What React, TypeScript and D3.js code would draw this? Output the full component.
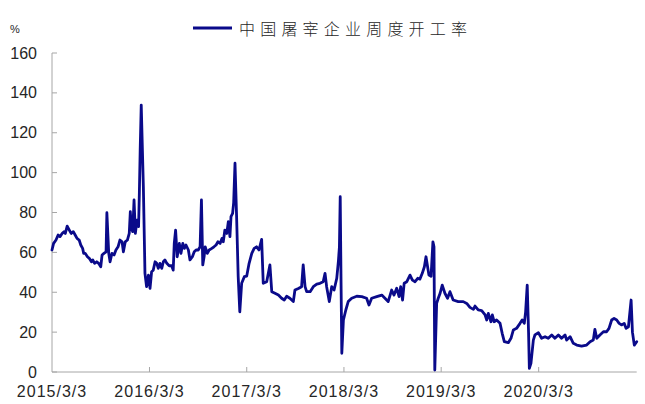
import React from "react";
import * as d3 from "d3";

const startDate = new Date(2015, 2, 3);
const seriesName = "中国屠宰企业周度开工率";
const unitLabel = "%";
const yTicks = [0, 20, 40, 60, 80, 100, 120, 140, 160];
const xTickLabels = ["2015/3/3", "2016/3/3", "2017/3/3", "2018/3/3", "2019/3/3", "2020/3/3"];
const xTickDates = [
  new Date(2015, 2, 3), new Date(2016, 2, 3), new Date(2017, 2, 3),
  new Date(2018, 2, 3), new Date(2019, 2, 3), new Date(2020, 2, 3),
];
const endDay = 2195;

// days since 2015/3/3
const dayOffsets = [
  0, 6, 15, 23, 30, 38, 45, 50, 57, 65,
  72, 80, 87, 94, 102, 108, 115, 119, 125, 133,
  140, 148, 153, 160, 168, 175, 183, 188, 195, 203,
  206, 213, 218, 225, 233, 240, 248, 255, 263, 268,
  275, 283, 290, 294, 298, 303, 308, 313, 319, 325,
  328, 331, 335, 343, 349, 355, 362, 368, 374, 380,
  387, 393, 399, 405, 412, 418, 424, 431, 440, 449,
  455, 459, 464, 470, 478, 484, 491, 497, 503, 512,
  518, 527, 534, 541, 549, 556, 561, 566, 571, 575,
  583, 590, 600, 608, 616, 623, 631, 638, 643, 649,
  656, 662, 668, 672, 678, 682, 687, 693, 699,
  705, 712, 722, 731, 740, 750, 759, 768, 777, 787, 793, 806, 818, 825, 837, 850, 862, 872, 881, 893,
  906, 912, 925, 937, 943, 950, 956, 969, 981, 994, 1006, 1018, 1025, 1031, 1041, 1050, 1059, 1069, 1075, 1079,
  1082, 1085, 1088, 1094, 1103, 1112, 1125, 1144, 1163, 1181, 1190, 1200, 1219, 1238, 1250, 1262, 1275, 1284, 1294, 1303,
  1309, 1316, 1322, 1332, 1344, 1353, 1363, 1373, 1381, 1390, 1398, 1404, 1410, 1415, 1423, 1430, 1434, 1437, 1444, 1450,
  1457, 1465, 1475, 1485, 1494, 1506, 1525, 1544, 1557, 1569, 1582, 1588, 1600, 1613, 1626, 1632, 1638, 1648, 1653, 1660,
  1669, 1682, 1690, 1698, 1713, 1723, 1732, 1744, 1757, 1765, 1773, 1778, 1784, 1789, 1792, 1798, 1807, 1813, 1826, 1838,
  1851, 1863, 1876, 1888, 1901, 1913, 1926, 1932, 1945, 1957, 1970, 1988, 2007, 2020, 2032, 2038, 2045, 2057, 2070, 2082,
  2091, 2101, 2110, 2120, 2129, 2139, 2148, 2155, 2164, 2174, 2179, 2186, 2195,
];

const rates = [
  61.2, 64.5, 66.2, 68.7, 67.9, 69.5, 70.4, 69.5, 73.2, 71.2,
  69.5, 70.4, 68.7, 67, 66.2, 63.7, 62, 59.5, 59.5, 57.8,
  57, 55.3, 56.2, 54.5, 55.3, 54.5, 52.8, 58.7, 59.5, 60.3,
  79.9, 59.5, 55.3, 59.5, 58.7, 61.2, 62.8, 66.2, 65.3, 60.3,
  65.3, 66.2, 69.5, 80.4, 72, 70.4, 86.3, 69.5, 76.2, 72.9,
  90, 111, 133.9, 92.9, 49.5, 42.8, 48.6, 42, 50.3, 51,
  55.3, 54.5, 52, 54.5, 52, 55.3, 56.2, 54.5, 53.3, 53.3,
  51.1, 64.5, 71.2, 57.8, 64.5, 59.5, 64.5, 62, 63.7, 61.2,
  56.2, 57.8, 60.3, 61.2, 61.2, 62.8, 86.3, 53.7, 57.8, 62.8,
  59.5, 61.2, 62, 62.8, 63.7, 65.3, 64.5, 67, 65.3, 71.2,
  69.5, 75.4, 67.9, 77.9, 79.5, 85, 104.7, 77.9, 47.8,
  30.2, 44.5, 47.8, 48.1, 54.5, 59.5, 62, 62.8, 61.2, 66.5, 44.5, 45.3, 53.7, 40.3, 39.5, 38.6, 37, 36.1, 38, 37,
  35.3, 41.1, 41.9, 42.8, 53.7, 42.8, 40.3, 40.3, 42.8, 44.1, 44.5, 45.3, 49.5, 42.8, 35.3, 42.8, 41.1, 47, 55.3, 62.8,
  87.9, 46.1, 9.4, 26.1, 31.1, 35.3, 37, 38, 37.8, 37, 33.6, 37, 37.8, 38.6, 37, 35.3, 41.1, 38.6, 42, 37.8,
  42.8, 36.1, 44.5, 45.3, 48.6, 46.1, 45.3, 47, 46.6, 49.5, 52.8, 57.8, 52.8, 48.6, 48, 65.3, 62.8, 1, 34.4, 37,
  39.5, 43.6, 39.5, 37, 40.3, 36.1, 35.3, 35.3, 34.4, 32.4, 31.4, 33.1, 31.1, 30.8, 28.6, 26.1, 29.4, 25.2, 28.6, 25.2,
  26.1, 24.4, 19.4, 15.2, 14.7, 16.9, 21.1, 21.9, 24.4, 26.1, 24.4, 30.2, 43.6, 20, 1.8, 4.3, 16, 18.6, 19.7, 16.9,
  17.7, 16.9, 18.6, 16.9, 18.6, 16.9, 18.6, 16, 17.7, 14.4, 13.5, 13, 13.5, 15.2, 16, 21.4, 16.9, 18.6, 20.2, 20.2,
  21.9, 26.1, 26.9, 26.1, 24.4, 23.6, 24.4, 21.9, 22.7, 36.1, 20, 13.5, 15.2,
];

const W = 645;
const H = 404;
const margin = { left: 52, right: 8, top: 53, bottom: 32 };
const axisColor = "#a6a6a6";
const lineColor = "#0a0a8a";
const textColor = "#262626";
const font = "'Liberation Sans', Arial, sans-serif";

export default function App() {
  const x = d3
    .scaleTime()
    .domain([startDate, d3.timeDay.offset(startDate, endDay)])
    .range([margin.left, 636.7]);
  const y = d3.scaleLinear().domain([0, 160]).range([H - margin.bottom, margin.top]);

  const n = Math.min(dayOffsets.length, rates.length);
  const data = dayOffsets.slice(0, n).map((d, i) => ({ date: d3.timeDay.offset(startDate, d), v: rates[i] }));
  const line = d3
    .line<{ date: Date; v: number }>()
    .x((d) => x(d.date))
    .y((d) => y(d.v));

  const x0 = margin.left;
  const x1 = 636.7;
  const yBase = y(0);

  return (
    <div style={{ position: "fixed", left: 0, top: 0 }}>
      <svg width={W} height={H} style={{ display: "block", background: "#fff" }}>
        {/* legend */}
        <line x1={193} x2={232} y1={28} y2={28} stroke={lineColor} strokeWidth={3} />
        <text x={239} y={28} dominantBaseline="central" fontSize={16} letterSpacing={5.2}
          fill={textColor} fontFamily="'Noto Sans CJK SC', sans-serif" fontWeight={300}>
          {seriesName}
        </text>
        <text x={15} y={29} textAnchor="middle" dominantBaseline="central" fontSize={11}
          fill={textColor} fontFamily={font}>{unitLabel}</text>

        {/* y axis */}
        <line x1={x0} x2={x0} y1={y(160)} y2={yBase} stroke={axisColor} strokeWidth={1} />
        {yTicks.map((t) => (
          <g key={t}>
            <line x1={x0} x2={x0 + 5} y1={y(t)} y2={y(t)} stroke={axisColor} strokeWidth={1} />
            <text x={37} y={y(t)} textAnchor="end" dominantBaseline="central" fontSize={16}
              fill={textColor} fontFamily={font}>{t}</text>
          </g>
        ))}

        {/* x axis */}
        <line x1={x0} x2={x1} y1={yBase} y2={yBase} stroke={axisColor} strokeWidth={1} />
        {xTickDates.map((d, i) => (
          <g key={i}>
            {i > 0 && (
              <line x1={x(d)} x2={x(d)} y1={yBase} y2={yBase - 5} stroke={axisColor} strokeWidth={1} />
            )}
            <text x={x(d)} y={391} textAnchor="middle" dominantBaseline="central" fontSize={16}
              letterSpacing={1} fill={textColor} fontFamily={font}>{xTickLabels[i]}</text>
          </g>
        ))}

        {/* series */}
        <path d={line(data) || ""} fill="none" stroke={lineColor} strokeWidth={2.8}
          strokeLinejoin="round" strokeLinecap="round" />
      </svg>
    </div>
  );
}
